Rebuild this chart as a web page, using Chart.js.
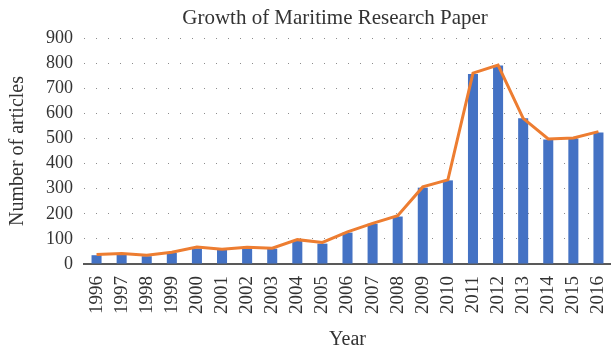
<!DOCTYPE html>
<html>
<head>
<meta charset="utf-8">
<script src="https://cdn.jsdelivr.net/npm/chart.js@4/dist/chart.umd.min.js"></script>
<style>
  html, body { margin: 0; padding: 0; background: #fff; }
  #wrap { width: 611px; height: 353px; position: relative; }
</style>
</head>
<body>
<div id="wrap"><canvas id="c" width="611" height="353"></canvas></div>
<script>
// Publications per year
const years = ['1996','1997','1998','1999','2000','2001','2002','2003','2004','2005','2006',
               '2007','2008','2009','2010','2011','2012','2013','2014','2015','2016'];
const articles = [35, 37, 31, 44, 62, 56, 63, 61, 92, 81, 125,
                  160, 189, 304, 333, 757, 790, 580, 496, 500, 524];
const trend = [38, 42, 35, 47, 68, 59, 67, 63, 97, 86, 128,
               162, 192, 307, 335, 760, 792, 580, 498, 502, 527];
const yTicks = [0, 100, 200, 300, 400, 500, 600, 700, 800, 900];

const chartTitle = 'Growth of Maritime Research Paper';
const serif = "'Liberation Serif', 'DejaVu Serif', serif";
const textColor = '#333333';

// Title drawn by hand so it can sit slightly left of the plot centre
const titlePlugin = {
  id: 'customTitle',
  afterDraw(chart) {
    const ctx = chart.ctx;
    ctx.save();
    ctx.font = '21px ' + serif;
    ctx.fillStyle = textColor;
    ctx.textAlign = 'center';
    ctx.textBaseline = 'alphabetic';
    ctx.fillText(chartTitle, 335, 24);
    ctx.restore();
  }
};

new Chart(document.getElementById('c'), {
  type: 'bar',
  data: {
    labels: years,
    datasets: [
      {
        type: 'line',
        data: trend,
        borderColor: '#ED7D31',
        backgroundColor: '#ED7D31',
        borderWidth: 3,
        pointRadius: 0,
        tension: 0,
        order: 0
      },
      {
        type: 'bar',
        data: articles,
        backgroundColor: '#4472C4',
        barPercentage: 0.4,
        categoryPercentage: 1.0,
        order: 1
      }
    ]
  },
  options: {
    responsive: false,
    animation: false,
    devicePixelRatio: 1,
    layout: { padding: { top: 38, right: 0, left: 0, bottom: 0 } },
    plugins: {
      legend: { display: false },
      title: { display: false },
      tooltip: { enabled: false }
    },
    scales: {
      x: {
        offset: true,
        grid: { display: false },
        border: { display: true, color: '#595959', width: 2 },
        ticks: {
          color: textColor,
          font: { family: serif, size: 19 },
          minRotation: 90,
          maxRotation: 90,
          autoSkip: false,
          padding: 4
        },
        title: {
          display: true,
          text: 'Year',
          color: textColor,
          font: { family: serif, size: 20 },
          padding: { top: 0, bottom: 1 }
        },
        afterFit(scale) {
          scale.height = 89;
          scale.paddingLeft = 0;
          scale.paddingRight = 0;
        }
      },
      y: {
        min: 0,
        max: 900,
        afterBuildTicks(scale) { scale.ticks = yTicks.map(v => ({ value: v })); },
        grid: {
          color: '#8c8c8c',
          lineWidth: 1,
          drawTicks: false
        },
        border: { display: false, dash: [1, 11] },
        ticks: {
          color: textColor,
          font: { family: serif, size: 18 },
          padding: 11
        },
        title: {
          display: true,
          text: 'Number of articles',
          color: textColor,
          font: { family: serif, size: 20 },
          padding: { top: 6, bottom: 0 }
        },
        afterFit(scale) {
          scale.width = 84;
          scale.paddingTop = 0;
          scale.paddingBottom = 0;
        }
      }
    }
  },
  plugins: [titlePlugin]
});
</script>
</body>
</html>
